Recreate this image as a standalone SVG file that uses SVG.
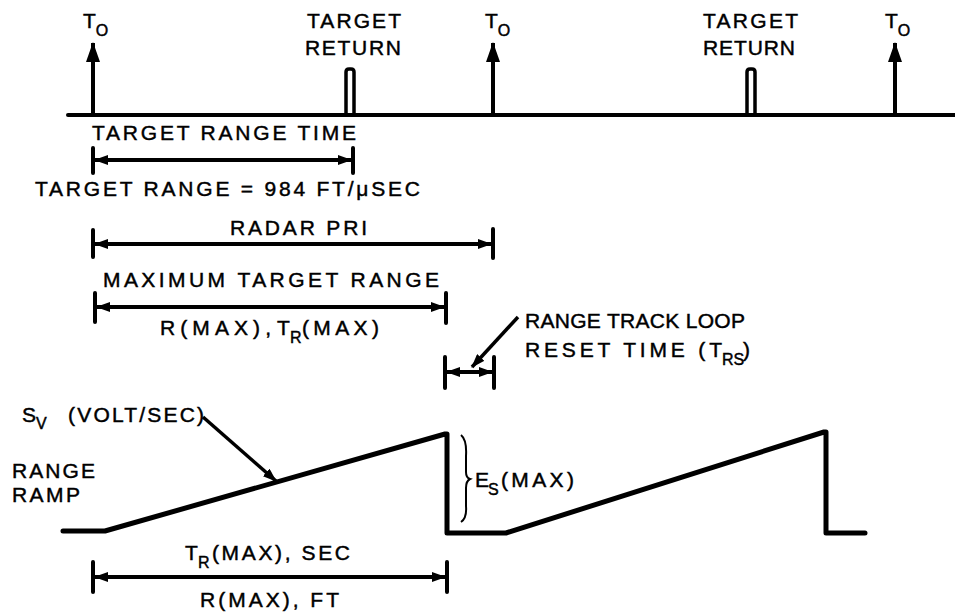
<svg xmlns="http://www.w3.org/2000/svg" width="955" height="612" viewBox="0 0 955 612">
<style>
text{font-family:"Liberation Sans",Arial,sans-serif;font-size:21px;fill:#000;stroke:#000;stroke-width:0.45}
.sub{font-size:16px}
.ln{stroke:#000;stroke-width:4;fill:none;stroke-linecap:round;stroke-linejoin:round}
.thk{stroke:#000;stroke-width:5;fill:none;stroke-linecap:round;stroke-linejoin:round}
.dim{stroke:#000;stroke-width:4;fill:none;marker-start:url(#ah);marker-end:url(#ah)}
.lead{stroke:#000;stroke-width:3.5;fill:none;marker-end:url(#ah)}
.up{stroke:#000;stroke-width:4;fill:none;marker-end:url(#big)}
</style>
<defs>
<marker id="ah" viewBox="0 0 14 10" refX="13" refY="5" markerWidth="14" markerHeight="10" markerUnits="userSpaceOnUse" orient="auto-start-reverse">
<path d="M0,0 L14,5 L0,10 z" fill="#000"/>
</marker>
<marker id="big" viewBox="0 0 20 14" refX="19" refY="7" markerWidth="20" markerHeight="14" markerUnits="userSpaceOnUse" orient="auto">
<path d="M0,0 L20,7 L0,14 z" fill="#000"/>
</marker>
</defs>
<rect width="955" height="612" fill="#fff"/>

<g id="pulse-train">
<path class="ln" d="M68,115 L955,115"/>
<path class="up" d="M93,115 L93,43"/>
<path class="up" d="M493,115 L493,43"/>
<path class="up" d="M895,115 L895,43"/>
<path d="M346,115 L346,72 Q346,69 349,69 L351,69 Q354,69 354,72 L354,115" stroke="#000" stroke-width="3.5" fill="none"/>
<path d="M747,115 L747,72 Q747,69 750,69 L752,69 Q755,69 755,72 L755,115" stroke="#000" stroke-width="3.5" fill="none"/>
</g>

<g id="pulse-labels">
<text x="83" y="28">T<tspan class="sub" dy="8">O</tspan></text>
<text x="485" y="28">T<tspan class="sub" dy="8">O</tspan></text>
<text x="885" y="28">T<tspan class="sub" dy="8">O</tspan></text>
<text x="307" y="28" textLength="94" lengthAdjust="spacing">TARGET</text>
<text x="305" y="55" textLength="96" lengthAdjust="spacing">RETURN</text>
<text x="703" y="28" textLength="95" lengthAdjust="spacing">TARGET</text>
<text x="703" y="55" textLength="92" lengthAdjust="spacing">RETURN</text>
</g>

<g id="connectors">
<path class="ln" d="M93,148 L93,173 M353,148 L353,173"/>
<path class="dim" d="M95,160 L351,160"/>
<path class="ln" d="M93,230 L93,257 M493,229 L493,258"/>
<path class="dim" d="M95,244 L491,244"/>
<path class="ln" d="M95,293 L95,322 M446,293 L446,323"/>
<path class="dim" d="M97,307 L444,307"/>
<path class="ln" d="M445,357 L445,388 M494,357 L494,388"/>
<path class="dim" d="M447,372 L492,372"/>
<path class="lead" d="M518,317 L472,367"/>
<path class="lead" d="M203,417 L276,481"/>
<path class="ln" d="M93,562 L93,592 M447,562 L447,592"/>
<path class="dim" d="M95,577 L445,577"/>
<path d="M461,435 Q467,440 466,456 L466,472 Q466,478 470,479 Q466,481 466,488 L466,506 Q467,518 461,522" stroke="#000" stroke-width="2" fill="none"/>
</g>

<g id="range-ramp">
<path class="thk" d="M63,531 L105,531 L445,434 L447,434 L447,533 L506,533 L824,432 L826,432 L826,533 L865,533"/>
</g>

<g id="dimension-labels">
<text x="92" y="140" textLength="264" lengthAdjust="spacing">TARGET RANGE TIME</text>
<text x="35" y="196" textLength="385" lengthAdjust="spacing">TARGET RANGE = 984 FT/μSEC</text>
<text x="230" y="235" textLength="137" lengthAdjust="spacing">RADAR PRI</text>
<text x="103" y="287" textLength="336" lengthAdjust="spacing">MAXIMUM TARGET RANGE</text>
<text x="160" y="335" textLength="111" lengthAdjust="spacing">R(MAX),</text>
<text x="277" y="335">T</text>
<text class="sub" x="290" y="343">R</text>
<text x="302" y="335" textLength="77" lengthAdjust="spacing">(MAX)</text>
<text x="525" y="328" textLength="220" lengthAdjust="spacing">RANGE TRACK LOOP</text>
<text x="525" y="357" textLength="197" lengthAdjust="spacing">RESET TIME (T</text>
<text class="sub" x="722" y="365">RS</text>
<text x="743" y="357">)</text>
<text x="22" y="422">S</text>
<text class="sub" x="36" y="429">V</text>
<text x="68" y="422" textLength="136" lengthAdjust="spacing">(VOLT/SEC)</text>
<text x="12" y="478" textLength="83" lengthAdjust="spacing">RANGE</text>
<text x="12" y="502" textLength="68" lengthAdjust="spacing">RAMP</text>
<text x="475" y="487">E</text>
<text class="sub" x="488" y="495">S</text>
<text x="501" y="487" textLength="73" lengthAdjust="spacing">(MAX)</text>
<text x="185" y="560">T</text>
<text class="sub" x="198" y="568">R</text>
<text x="212" y="560" textLength="138" lengthAdjust="spacing">(MAX), SEC</text>
<text x="200" y="607" textLength="139" lengthAdjust="spacing">R(MAX), FT</text>
</g>
</svg>
